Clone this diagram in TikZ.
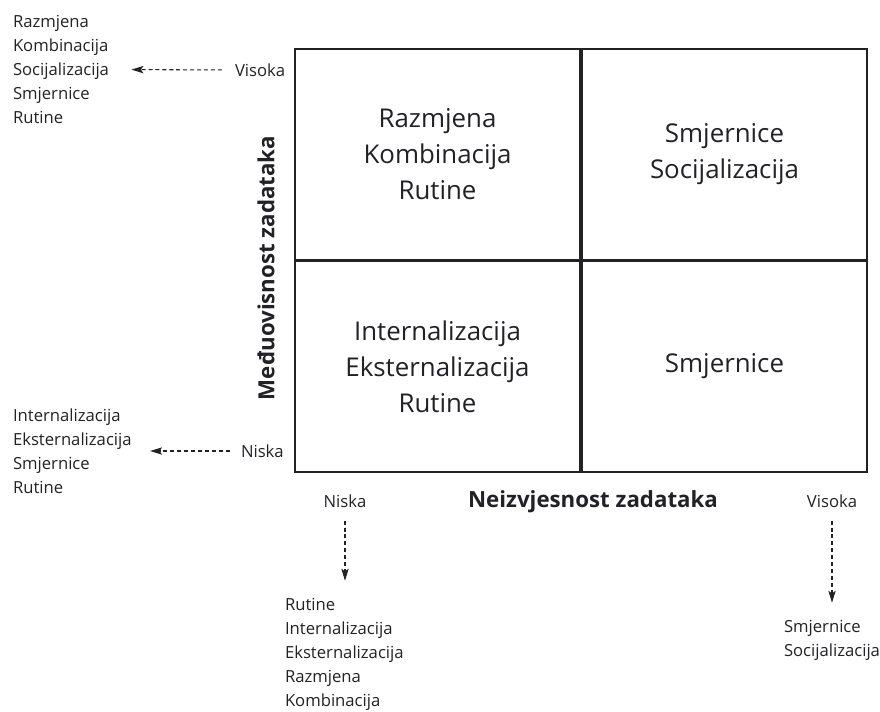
\documentclass[tikz,border=0pt]{standalone}
\usepackage{fontspec}
\setmainfont{Open Sans}
\usetikzlibrary{arrows.meta,positioning}
\definecolor{inkgray}{RGB}{34,34,38}
\tikzset{every picture/.style={line width=0.75pt}}

\begin{document}
\begin{tikzpicture}[x=0.75pt,y=0.75pt,yscale=-1,xscale=1,
  cell/.style={draw=inkgray, line width=1.7pt, minimum width=213.75pt, minimum height=158.25pt, align=center, text=inkgray, font=\fontsize{19.4}{27}\selectfont},
  axislabel/.style={font=\fontsize{16.7}{20}\selectfont\bfseries, text=inkgray},
  levellabel/.style={font=\fontsize{12.5}{18}\selectfont, text=inkgray, inner sep=1.5pt},
  toollist/.style={levellabel, align=left, anchor=west},
  hint/.style={-{Stealth[length=9pt,width=5.5pt,inset=2pt]}, dash pattern=on 3pt off 2.2pt, line width=0.8pt, draw=inkgray}]

\useasboundingbox (0,0) rectangle (880,711);

% quadrants
\node[cell] (hiLo) at (437.5,154.5) {Razmjena\\Kombinacija\\Rutine};
\node[cell] (hiHi) at (724.5,154.5) {Smjernice\\Socijalizacija};
\node[cell] (loLo) at (437.5,366.5) {Internalizacija\\Eksternalizacija\\Rutine};
\node[cell] (loHi) at (724.5,366.5) {Smjernice};

% axis titles
\node[axislabel, rotate=90] (yTitle) at (266,268) {Međuovisnost zadataka};
\node[axislabel] (xTitle) at (593,502) {Neizvjesnost zadataka};

% left side: interdependence
\node[levellabel, anchor=west] (yHi) at (232.5,70) {Visoka};
\node[toollist] (yHiList) at (10.5,69.5) {Razmjena\\Kombinacija\\Socijalizacija\\Smjernice\\Rutine};
\draw[hint, shorten <=8pt, shorten >=15pt] (yHi.west) -- (yHiList.east);

\node[levellabel, anchor=west] (yLo) at (238.5,451) {Niska};
\node[toollist] (yLoList) at (10.5,451) {Internalizacija\\Eksternalizacija\\Smjernice\\Rutine};
\draw[hint, shorten <=6.5pt, shorten >=12pt] (yLo.west) -- (yLoList.east);

% bottom side: uncertainty
\node[levellabel] (xLo) at (345,501) {Niska};
\node[toollist] (xLoList) at (282.5,654) {Rutine\\Internalizacija\\Eksternalizacija\\Razmjena\\Kombinacija};
\draw[hint, shorten <=8pt, shorten >=11pt] (xLo.south) -- (xLo.south |- xLoList.north);

\node[levellabel] (xHi) at (832,501) {Visoka};
\node[toollist] (xHiList) at (781.5,640) {Smjernice\\Socijalizacija};
\draw[hint, shorten <=8pt, shorten >=11pt] (xHi.south) -- (xHi.south |- xHiList.north);

\end{tikzpicture}
\end{document}
